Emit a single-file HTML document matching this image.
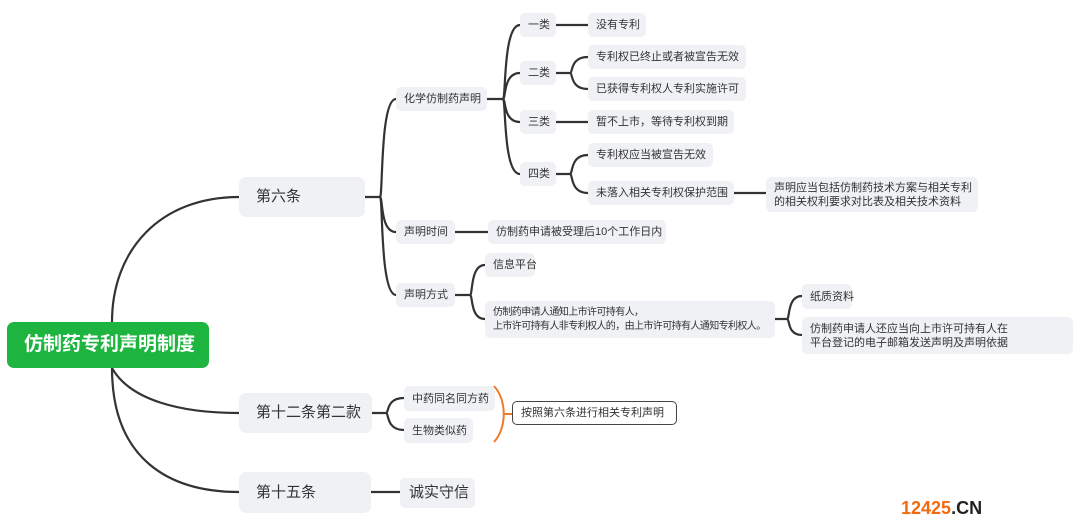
<!DOCTYPE html>
<html><head><meta charset="utf-8">
<style>
body{margin:0;width:1080px;height:530px;background:#fff;position:relative;overflow:hidden;font-family:"Liberation Sans","Noto Sans CJK SC",sans-serif;color:#333}
.n{position:absolute;background:#eff1f4;border-radius:5px;font-size:11px;line-height:14px;padding-left:8px;box-sizing:border-box;display:flex;align-items:center;white-space:nowrap}
.b{font-size:15px;padding-left:17px;border-radius:7px}
svg{position:absolute;left:0;top:0}
</style></head><body>
<svg id="s" width="1080" height="530"></svg>
<div class="n" style="left:7px;top:322px;width:202px;height:46px;background:#1db440;color:#fff;font-size:19px;font-weight:bold;padding-left:17px;border-radius:7px">仿制药专利声明制度</div>
<div class="n b" style="left:239px;top:177px;width:126px;height:40px">第六条</div>
<div class="n b" style="left:239px;top:393px;width:133px;height:40px">第十二条第二款</div>
<div class="n b" style="left:239px;top:472px;width:132px;height:41px">第十五条</div>
<div class="n" style="left:400px;top:478px;width:75px;height:30px;font-size:15px;padding-left:9px">诚实守信</div>
<div class="n" style="left:404px;top:386px;width:91px;height:25px">中药同名同方药</div>
<div class="n" style="left:404px;top:418px;width:69px;height:25px">生物类似药</div>
<div class="n" style="left:512px;top:401px;width:165px;height:24px;background:#fff;border:1.5px solid #444;border-radius:5px;padding-left:8px">按照第六条进行相关专利声明</div>
<div class="n" style="left:396px;top:87px;width:91px;height:24px">化学仿制药声明</div>
<div class="n" style="left:520px;top:13px;width:36px;height:24px">一类</div>
<div class="n" style="left:588px;top:13px;width:58px;height:24px">没有专利</div>
<div class="n" style="left:520px;top:61px;width:36px;height:24px">二类</div>
<div class="n" style="left:588px;top:45px;width:158px;height:24px">专利权已终止或者被宣告无效</div>
<div class="n" style="left:588px;top:77px;width:158px;height:24px">已获得专利权人专利实施许可</div>
<div class="n" style="left:520px;top:110px;width:36px;height:24px">三类</div>
<div class="n" style="left:588px;top:110px;width:146px;height:24px">暂不上市，等待专利权到期</div>
<div class="n" style="left:520px;top:162px;width:36px;height:24px">四类</div>
<div class="n" style="left:588px;top:143px;width:125px;height:24px">专利权应当被宣告无效</div>
<div class="n" style="left:588px;top:181px;width:146px;height:24px">未落入相关专利权保护范围</div>
<div class="n" style="left:766px;top:177px;width:212px;height:35px;white-space:normal">声明应当包括仿制药技术方案与相关专利的相关权利要求对比表及相关技术资料</div>
<div class="n" style="left:396px;top:220px;width:59px;height:24px">声明时间</div>
<div class="n" style="left:488px;top:220px;width:178px;height:24px">仿制药申请被受理后10个工作日内</div>
<div class="n" style="left:396px;top:283px;width:59px;height:24px">声明方式</div>
<div class="n" style="left:485px;top:253px;width:50px;height:24px">信息平台</div>
<div class="n" style="left:485px;top:301px;width:290px;height:37px;font-size:10px;letter-spacing:-0.6px">仿制药申请人通知上市许可持有人，<br>上市许可持有人非专利权人的，由上市许可持有人通知专利权人。</div>
<div class="n" style="left:802px;top:284px;width:50px;height:25px">纸质资料</div>
<div class="n" style="left:802px;top:317px;width:271px;height:37px">仿制药申请人还应当向上市许可持有人在<br>平台登记的电子邮箱发送声明及声明依据</div>
<div style="position:absolute;left:901px;top:498px;font-size:18px;font-weight:bold;font-family:'Liberation Sans',sans-serif"><span style="color:#f26a10">12425</span><span style="color:#222">.CN</span></div>
<script>
var s=document.getElementById('s'),d='';
function br(x0,y0,sx,kids,x1){d+='M'+x0+','+y0+'H'+sx+' ';kids.forEach(function(y){d+='M'+sx+','+y0+'C'+(sx+3)+','+y0+' '+sx+','+y+' '+x1+','+y+' ';});}
function ln(x0,y,x1){d+='M'+x0+','+y+'H'+x1+' ';}
d+='M112,322C112,250 160,197 239,197 M112,368C112,460 170,492 239,492 M112,368C130,400 180,413 239,413 ';
br(365,197,380,[99,232,295],396);
br(487,99,503,[25,73,122,174],520);
ln(556,25,588);ln(556,122,588);
br(556,73,570,[57,89],588);
br(556,174,570,[155,193],588);
ln(734,193,766);ln(455,232,488);
br(455,295,470,[265,319],485);
br(775,319,787,[296,335],802);
br(372,413,386,[398,430],404);
ln(371,492,400);
var p=document.createElementNS('http://www.w3.org/2000/svg','path');
p.setAttribute('d',d);p.setAttribute('fill','none');p.setAttribute('stroke','#333');p.setAttribute('stroke-width','2.2');s.appendChild(p);
var o=document.createElementNS('http://www.w3.org/2000/svg','path');
o.setAttribute('d','M494,386C507,400 507,428 494,442 M504,414H512');o.setAttribute('fill','none');o.setAttribute('stroke','#f07a2a');o.setAttribute('stroke-width','2');s.appendChild(o);
</script>
</body></html>
